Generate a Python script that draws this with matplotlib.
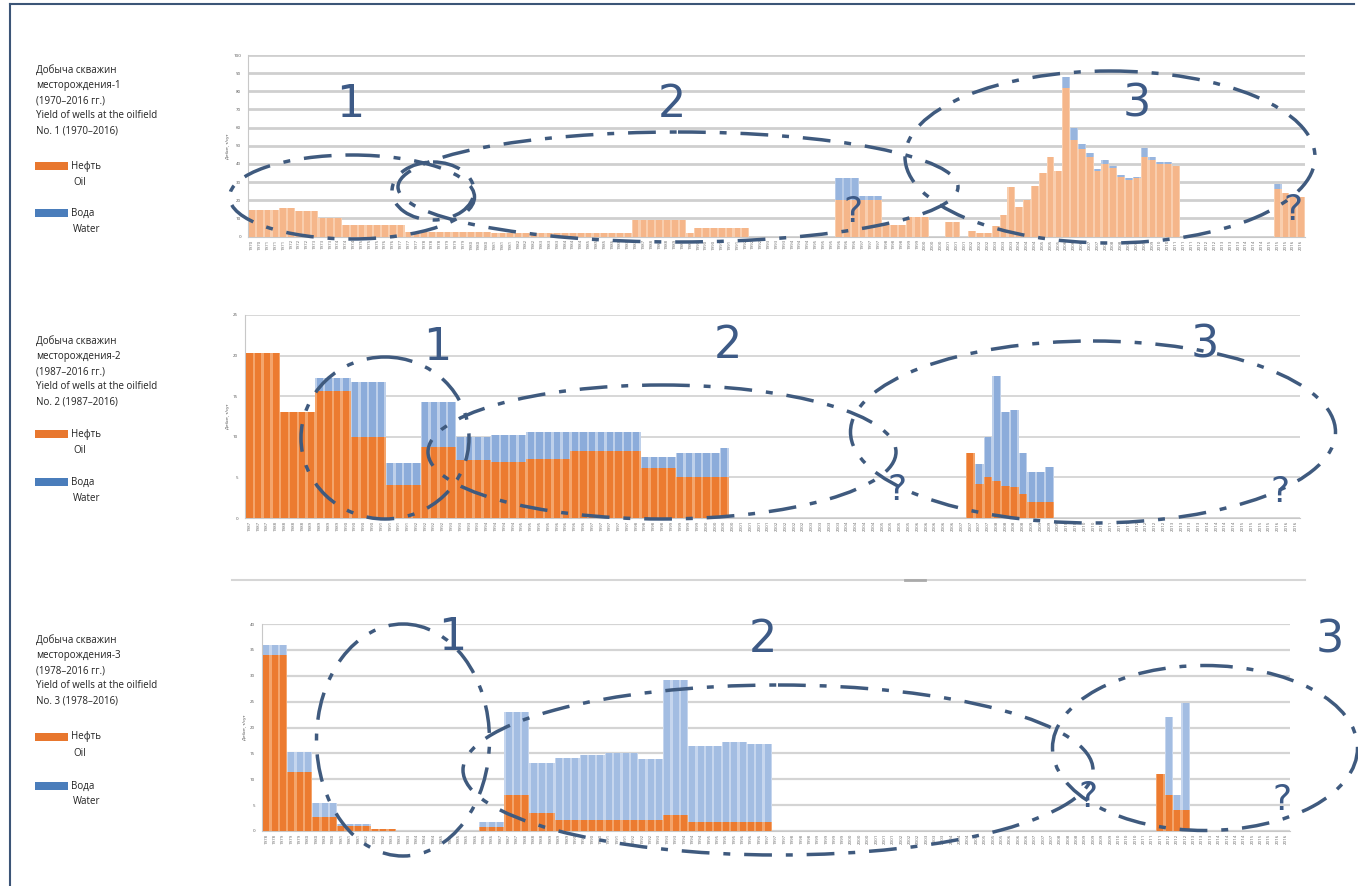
import matplotlib
matplotlib.use("Agg")
import matplotlib.pyplot as plt
from matplotlib.patches import Ellipse, Rectangle
import numpy as np

W, H = 1358, 886

# ---------------- DATA ----------------
# Field 1 (1970-2016), 135 periods
oil1 = [14.5, 14.5, 14.5, 14.5, 15.5, 15.5, 14, 14, 14, 10, 10, 10,
        6.5, 6.5, 6.5, 6.5, 6.5, 6.5, 6.5, 6.5,
        2.5, 2.5, 2.5, 2.5, 2.5, 2.5, 2.5, 2.5, 2.5, 2.5, 2.5,
        2.2, 2.2, 2.2, 2.2, 2.2, 2.2, 2.2, 2.2, 2.2, 2.2,
        2.0, 2.0, 2.0, 2.0, 2.0, 2.0, 2.0, 2.0,
        9, 9, 9, 9, 9, 9, 9, 2,
        4.8, 4.8, 4.8, 4.8, 4.8, 4.8, 4.8,
        0, 0, 0, 0, 0, 0, 0, 0, 0, 0, 0,
        20, 20, 20, 20, 20, 20,
        6.5, 6.5, 6.5, 10.5, 10.5, 10.5, 0, 0, 8, 8, 0, 3, 2, 2,
        6, 12, 27, 16, 20, 28, 35, 44, 36,
        82, 53, 48, 44, 36, 40, 38, 33, 31, 32, 44, 42, 40, 40, 39,
        0, 0, 0, 0, 0, 0, 0, 0, 0, 0, 0, 0,
        26, 24, 22, 22]
water1 = [0] * 75 + [12, 12, 12, 2.5, 2.5, 2.5] + [0] * 23 + \
         [6, 7, 3, 2, 1, 2, 1, 1, 1, 1, 5, 2, 1, 1, 0] + [0] * 12 + [3, 0, 0, 0]

# Field 2 (1987-2016), 120 periods
oil2 = [20.3, 20.3, 20.3, 20.3, 13, 13, 13, 13, 15.7, 15.7, 15.7, 15.7,
        10, 10, 10, 10, 4.1, 4.1, 4.1, 4.1, 8.8, 8.8, 8.8, 8.8,
        7.2, 7.2, 7.2, 7.2, 6.9, 6.9, 6.9, 6.9,
        7.3, 7.3, 7.3, 7.3, 7.3, 8.2, 8.2, 8.2, 8.2, 8.2, 8.2, 8.2, 8.2,
        6.2, 6.2, 6.2, 6.2, 5.0, 5.0, 5.0, 5.0, 5.0, 5.0] + [0] * 27 + \
       [8, 4.2, 5, 4.5, 4, 3.8, 3, 2, 2, 2] + [0] * 28
water2 = [0] * 8 + [1.5, 1.5, 1.5, 1.5, 6.7, 6.7, 6.7, 6.7, 2.7, 2.7, 2.7, 2.7,
                    5.5, 5.5, 5.5, 5.5, 2.8, 2.8, 2.8, 2.8, 3.3, 3.3, 3.3, 3.3,
                    3.3, 3.3, 3.3, 3.3, 3.3, 2.4, 2.4, 2.4, 2.4, 2.4, 2.4, 2.4, 2.4,
                    1.3, 1.3, 1.3, 1.3, 3.0, 3.0, 3.0, 3.0, 3.0, 3.6] + [0] * 27 + \
         [0, 2.5, 5, 13, 9, 9.5, 5, 3.7, 3.7, 4.3] + [0] * 28

# Field 3 (1978-2016), 124 periods
oil3 = [34, 34, 34, 11.4, 11.4, 11.4, 2.8, 2.8, 2.8, 0.9, 0.9, 0.9, 0.9,
        0.4, 0.4, 0.4] + [0] * 10 + \
       [0.8, 0.8, 0.8, 7, 7, 7, 3.5, 3.5, 3.5, 2.1, 2.1, 2.1, 2.1, 2.1, 2.1,
        2.1, 2.1, 2.1, 2.1, 2.1, 2.1, 2.1, 3.1, 3.1, 3.1,
        1.7, 1.7, 1.7, 1.7, 1.7, 1.7, 1.7, 1.7, 1.7, 1.7] + [0] * 46 + \
       [11, 7, 4, 4] + [0] * 12
water3 = [2, 2, 2, 3.9, 3.9, 3.9, 2.6, 2.6, 2.6, 0.5, 0.5, 0.5, 0.5,
          0, 0, 0] + [0] * 10 + \
         [0.9, 0.9, 0.9, 16, 16, 16, 9.7, 9.7, 9.7, 12, 12, 12, 12.6, 12.6, 12.6,
          12.9, 12.9, 12.9, 12.9, 11.9, 11.9, 11.9, 26, 26, 26,
          14.7, 14.7, 14.7, 14.7, 15.5, 15.5, 15.5, 15.1, 15.1, 15.1] + [0] * 46 + \
         [0, 15, 3, 20.7] + [0] * 12

start1, end1 = 1970, 2016
start2, end2 = 1987, 2016
start3, end3 = 1978, 2016

labels1 = [str(start1 + round(i * (end1 - start1) / (len(oil1) - 1))) for i in range(len(oil1))]
labels2 = [str(start2 + round(i * (end2 - start2) / (len(oil2) - 1))) for i in range(len(oil2))]
labels3 = [str(start3 + round(i * (end3 - start3) / (len(oil3) - 1))) for i in range(len(oil3))]

titles = [
    ["Добыча скважин", "месторождения-1", "(1970–2016 гг.)", "Yield of wells at the oilfield", "No. 1 (1970–2016)"],
    ["Добыча скважин", "месторождения-2", "(1987–2016 гг.)", "Yield of wells at the oilfield", "No. 2 (1987–2016)"],
    ["Добыча скважин", "месторождения-3", "(1978–2016 гг.)", "Yield of wells at the oilfield", "No. 3 (1978–2016)"],
]
leg_oil = ["Нефть", "Oil"]
leg_water = ["Вода", "Water"]

# ---------------- FIGURE ----------------
plt.rcParams['font.family'] = ['Open Sans', 'DejaVu Sans']
fig = plt.figure(figsize=(W / 100, H / 100), dpi=100)
fig.patch.set_facecolor('white')


def add_ax(x0, x1, y_top, y_bot):
    return fig.add_axes([x0 / W, 1 - y_bot / H, (x1 - x0) / W, (y_bot - y_top) / H])


panels = [
    dict(oil=oil1, water=water1, labels=labels1, box=(248, 1305, 55, 236.5), ymax=100, step=10,
         oc=("#f9ceae", "#f5b68a"), wc=("#b7cbe8", "#98b5de"), grid="#cfcfcf", glw=2.0),
    dict(oil=oil2, water=water2, labels=labels2, box=(245, 1300, 315, 518), ymax=25, step=5,
         oc=("#f4a56c", "#ec7b30"), wc=("#bed0ea", "#8cacda"), grid="#d4d4d4", glw=1.3),
    dict(oil=oil3, water=water3, labels=labels3, box=(262, 1290, 624, 831), ymax=40, step=5,
         oc=("#f4a56c", "#ec7b30"), wc=("#c6d6ee", "#a3bde2"), grid="#d4d4d4", glw=1.6),
]

for p in panels:
    x0, x1, yt, yb = p["box"]
    ax = add_ax(x0, x1, yt, yb)
    n = len(p["oil"])
    x = np.arange(n)
    oil = np.array(p["oil"], float)
    wat = np.array(p["water"], float)
    ax.bar(x, oil, width=1.0, color=p["oc"][0], linewidth=0, zorder=2)
    ax.bar(x, oil, width=0.72, color=p["oc"][1], linewidth=0, zorder=3)
    ax.bar(x, wat, bottom=oil, width=1.0, color=p["wc"][0], linewidth=0, zorder=2)
    ax.bar(x, wat, bottom=oil, width=0.72, color=p["wc"][1], linewidth=0, zorder=3)
    ax.set_xlim(-0.5, n - 0.5)
    ax.set_ylim(0, p["ymax"])
    ax.set_yticks(np.arange(0, p["ymax"] + 0.1, p["step"]))
    ax.tick_params(axis='y', labelsize=3.2, labelcolor="#555555", length=0, pad=5)
    ax.set_xticks(x)
    ax.set_xticklabels(p["labels"], rotation=90, fontsize=3.2, color="#666666")
    ax.tick_params(axis='x', length=0, pad=2)
    ax.yaxis.grid(True, color=p["grid"], linewidth=p["glw"], zorder=0)
    ax.set_axisbelow(True)
    for s in ["top", "right"]:
        ax.spines[s].set_visible(False)
    ax.spines["left"].set_color("#c8c8c8")
    ax.spines["bottom"].set_color("#c8c8c8")
    ax.set_ylabel("Дебит, т/сут", fontsize=3.2, color="#444444", labelpad=2)
    ax.set_facecolor("none")

# ---------------- OVERLAY (annotations) ----------------
ov = fig.add_axes([0, 0, 1, 1], zorder=10)
ov.set_xlim(0, W)
ov.set_ylim(H, 0)
ov.axis("off")
ov.set_facecolor("none")

# frame
ov.plot([10, 10], [4, H], color="#3c5577", lw=1.5)
ov.plot([10, W - 4], [4, 4], color="#3c5577", lw=1.5)
# separator between panels 2 and 3
ov.plot([232, 1305], [580, 580], color="#d6d6d6", lw=1.5)
ov.plot([905, 925], [580, 580], color="#aaaaaa", lw=2)

ecol = "#3f5a7e"
dash = (0, (8, 4, 2, 4))
ellipses = [
    # panel 1
    (352, 197, 245, 84, 0), (433, 191, 82, 58, 0), (678, 187, 560, 110, 0), (1110, 157, 410, 172, 0),
    # panel 2
    (385, 438, 168, 162, 0), (662, 452, 468, 134, 0), (1093, 432, 485, 182, 0),
    # panel 3
    (403, 740, 173, 232, 0), (778, 770, 630, 170, 0), (1205, 748, 305, 165, 0),
]
for cx, cy, w, h, a in ellipses:
    ov.add_patch(Ellipse((cx, cy), w, h, angle=a, fill=False, edgecolor=ecol,
                         lw=2.5, linestyle=dash))

ncol = "#3d5a86"
nums = [("1", 350, 104), ("2", 672, 104), ("3", 1137, 104),
        ("1", 437, 348), ("2", 728, 345), ("3", 1205, 345),
        ("1", 452, 638), ("2", 763, 640), ("3", 1330, 640)]
for t, xx, yy in nums:
    ov.text(xx, yy, t, fontsize=32, color=ncol, ha="center", va="center", family="DejaVu Sans")
qs = [(853, 212), (1293, 210), (897, 490), (1280, 492), (1088, 797), (1282, 800)]
for xx, yy in qs:
    ov.text(xx, yy, "?", fontsize=26, color=ncol, ha="center", va="center", family="DejaVu Sans")

# left legends
blocks = [(70, 166, 213), (341, 434, 482), (640, 737, 786)]
for (ty, oy, wy), tl in zip(blocks, titles):
    for k, line in enumerate(tl):
        ov.text(36, ty + k * 15.3, line, fontsize=7, color="#222222", va="center", ha="left")
    ov.add_patch(Rectangle((35, oy - 4), 33, 8, color="#e8772e", lw=0))
    ov.text(71, oy, leg_oil[0], fontsize=7, color="#222222", va="center")
    ov.text(73, oy + 16, leg_oil[1], fontsize=7, color="#222222", va="center")
    ov.add_patch(Rectangle((35, wy - 4), 33, 8, color="#4a7dbb", lw=0))
    ov.text(71, wy, leg_water[0], fontsize=7, color="#222222", va="center")
    ov.text(73, wy + 16, leg_water[1], fontsize=7, color="#222222", va="center")

fig.savefig("out.png", dpi=100)
